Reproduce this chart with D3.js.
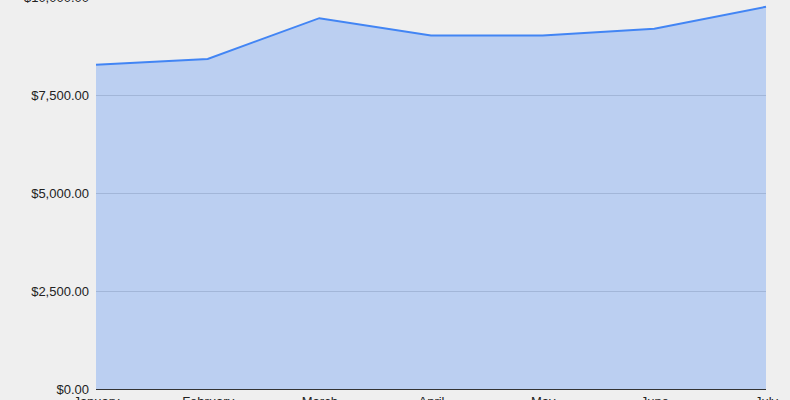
<!DOCTYPE html>
<html>
<head>
<meta charset="utf-8">
<script src="https://cdn.jsdelivr.net/npm/d3@7"></script>
<style>
  body { margin: 0; background: #efefef; }
  svg { display: block; font-family: "Liberation Sans", Arial, sans-serif; }
  .line { fill: none; stroke: #4285f4; stroke-width: 2px; }
  .area { fill: #4285f4; fill-opacity: 0.3; }
</style>
</head>
<body>
<script>
// datos del grafico
var months = ["January", "February", "March", "April", "May", "June", "July"];
var amounts = [8270, 8420, 9460, 9020, 9020, 9190, 9750];
var yTicks = [0, 2500, 5000, 7500, 10000];

var W = 790, H = 400;
var margin = {top: -3, left: 96, right: 24, bottom: 11};
var width = W - margin.left - margin.right,
    height = H - margin.top - margin.bottom;

var data = months.map(function(m, i) { return {month: m, value: amounts[i]}; });

var x = d3.scalePoint().domain(months).range([0, width]);
var y = d3.scaleLinear().domain([0, 10000]).range([height, 0]);

var svg = d3.select("body").append("svg")
    .attr("width", W).attr("height", H);
var g = svg.append("g")
    .attr("transform", "translate(" + margin.left + "," + margin.top + ")");

// lineas de la cuadricula
g.append("g").selectAll("line")
  .data(yTicks.filter(function(t) { return t > 0; }))
  .enter().append("line")
    .attr("x1", 0).attr("x2", width)
    .attr("y1", function(d) { return y(d) + 0.5; })
    .attr("y2", function(d) { return y(d) + 0.5; })
    .attr("stroke", "#cccccc");

var area = d3.area()
    .x(function(d) { return x(d.month); })
    .y0(y(0))
    .y1(function(d) { return y(d.value); });

var valueline = d3.line()
    .x(function(d) { return x(d.month); })
    .y(function(d) { return y(d.value); });

g.append("path").datum(data).attr("class", "area").attr("d", area);
g.append("path").datum(data).attr("class", "line").attr("d", valueline);

// linea base
g.append("line")
    .attr("x1", 0).attr("x2", width)
    .attr("y1", y(0) + 0.5).attr("y2", y(0) + 0.5)
    .attr("stroke", "#333333");

// ejes
var fmt = d3.format("$,.2f");
var yAxis = g.append("g")
    .call(d3.axisLeft(y).tickValues(yTicks).tickFormat(fmt).tickSize(0).tickPadding(7));
yAxis.select(".domain").remove();
yAxis.selectAll("text").attr("font-size", 13).attr("fill", "#222");

var xAxis = g.append("g")
    .attr("transform", "translate(0," + height + ")")
    .call(d3.axisBottom(x).tickSize(0).tickPadding(8));
xAxis.select(".domain").remove();
xAxis.selectAll("text").attr("font-size", 13).attr("fill", "#222");
xAxis.selectAll("text").attr("font-family", "Liberation Sans, Arial, sans-serif");
yAxis.selectAll("text").attr("font-family", "Liberation Sans, Arial, sans-serif");
</script>
</body>
</html>
